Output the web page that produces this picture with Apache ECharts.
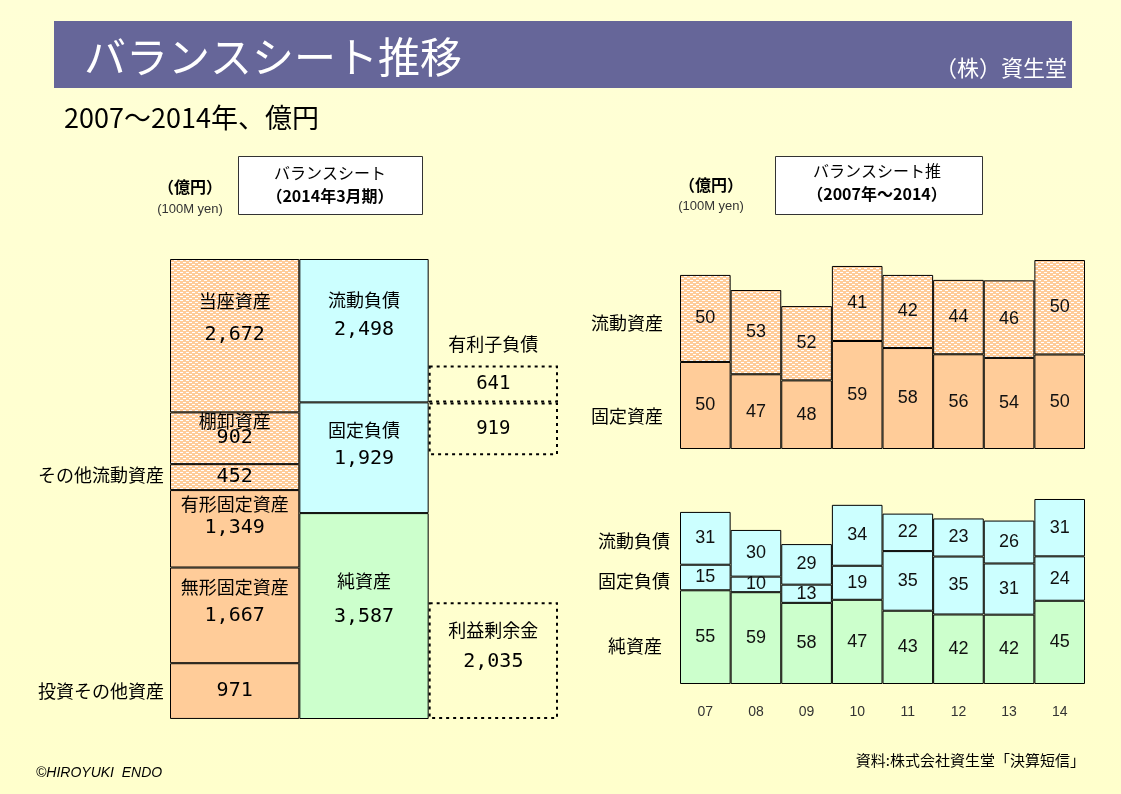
<!DOCTYPE html>
<html>
<head>
<meta charset="utf-8">
<script src="https://cdn.jsdelivr.net/npm/echarts@6/dist/echarts.min.js"></script>
<style>
  html, body { margin: 0; padding: 0; background: #FFFFD2; }
  #chart { width: 1121px; height: 794px; }
</style>
</head>
<body>
<div id="chart"></div>
<script>
// 2014年3月期 バランスシート (億円)
const assetNames = ['当座資産', '棚卸資産', 'その他流動資産', '有形固定資産', '無形固定資産', '投資その他資産'];
const assetValues = [2672, 902, 452, 1349, 1667, 971];
const liabNames = ['流動負債', '固定負債', '純資産'];
const liabValues = [2498, 1929, 3587];
const debtName = '有利子負債';
const debtValues = [641, 919];
const retainedName = '利益剰余金';
const retainedValue = 2035;

// 推移 2007〜2014 (構成比 %, 総資産 億円)
const years = ['07', '08', '09', '10', '11', '12', '13', '14'];
const totalAssets = [7380, 6740, 6060, 7760, 7380, 7170, 7150, 8013];
const currentAssetPct = [50, 53, 52, 41, 42, 44, 46, 50];
const fixedAssetPct = [50, 47, 48, 59, 58, 56, 54, 50];
const currentLiabPct = [31, 30, 29, 34, 22, 23, 26, 31];
const fixedLiabPct = [15, 10, 13, 19, 35, 35, 31, 24];
const netAssetPct = [55, 59, 58, 47, 43, 42, 42, 45];

const JP = '"Noto Sans CJK JP", sans-serif';
const MONO = '"DejaVu Sans Mono", monospace';
const NUM = '"Liberation Sans", Arial, sans-serif';

// 流動資産の網掛け
const makePattern = () => {
    const c = document.createElement('canvas');
    c.width = 6;
    c.height = 4;
    const g = c.getContext('2d');
    g.fillStyle = '#FFCC99';
    g.fillRect(0, 0, 6, 4);
    g.fillStyle = '#FFFFFF';
    g.fillRect(0, 0, 3, 1);
    g.fillRect(3, 2, 3, 1);
    return { image: c, repeat: 'repeat' };
};
const dotted = makePattern();
const fmt = (v) => v.toLocaleString('en-US');

// ラベル位置 (ブロック上端からの距離, 行の高さ)
const assetLabel = [
    { d: 25, lh: 34 },
    { d: 0, lh: 17 },
    null,
    { d: 2, lh: 24 },
    { d: 6, lh: 28 },
    null,
];
const liabLabel = [
    { d: 27, lh: 29 },
    { d: 14, lh: 28 },
    { d: 50, lh: 36 },
];
const richStyle = (lh) => ({
    n: { fontFamily: JP, fontSize: 18, lineHeight: lh, color: '#000' },
    v: { fontFamily: MONO, fontSize: 20, lineHeight: lh, color: '#000' },
});
const nameValueLabel = (name, value, cfg) => cfg
    ? {
        show: true, position: 'insideTop', distance: cfg.d,
        formatter: `{n|${name}}\n{v|${fmt(value)}}`, rich: richStyle(cfg.lh),
    }
    : {
        show: true, position: 'inside',
        formatter: fmt(value), fontFamily: MONO, fontSize: 20, color: '#000',
    };

const border = { borderColor: '#000', borderWidth: 1 };
const series = [];

assetNames.forEach((name, i) => {
    series.push({
        type: 'bar', name, stack: 'bs', xAxisIndex: 0, yAxisIndex: 0,
        barWidth: '100%',
        data: [assetValues[i], '-', '-'],
        itemStyle: { color: i < 3 ? dotted : '#FFCC99', ...border },
        label: nameValueLabel(name, assetValues[i], assetLabel[i]),
        silent: true,
    });
});
liabNames.forEach((name, i) => {
    series.push({
        type: 'bar', name, stack: 'bs', xAxisIndex: 0, yAxisIndex: 0,
        barWidth: '100%',
        data: ['-', liabValues[i], '-'],
        itemStyle: { color: i < 2 ? '#CCFFFF' : '#CCFFCC', ...border },
        label: nameValueLabel(name, liabValues[i], liabLabel[i]),
        silent: true,
    });
});

// 有利子負債・利益剰余金 (点線枠)
const liabTotal = liabValues.reduce((a, b) => a + b, 0);
const dashBox = { color: 'rgba(0,0,0,0)', borderColor: '#000', borderWidth: 2, borderType: [3, 4] };
const gap = { color: 'rgba(0,0,0,0)', borderWidth: 0 };
const debtTop = liabValues[0] - debtValues[0];
const gapMid = liabTotal - retainedValue - liabValues[0] - debtValues[1];
[
    { v: debtTop, style: gap, label: { show: true, position: 'insideBottom', distance: 12, formatter: debtName, fontFamily: JP, fontSize: 18, color: '#000' } },
    { v: debtValues[0], style: dashBox, label: { show: true, position: 'inside', formatter: fmt(debtValues[0]), fontFamily: MONO, fontSize: 19, color: '#000' } },
    { v: debtValues[1], style: dashBox, label: { show: true, position: 'inside', formatter: fmt(debtValues[1]), fontFamily: MONO, fontSize: 19, color: '#000' } },
    { v: gapMid, style: gap, label: { show: false } },
    { v: retainedValue, style: dashBox, label: nameValueLabel(retainedName, retainedValue, { d: 12, lh: 32 }) },
].forEach((b) => {
    series.push({
        type: 'bar', stack: 'bs', xAxisIndex: 0, yAxisIndex: 0, barWidth: '100%',
        data: ['-', '-', b.v], itemStyle: b.style, label: b.label, silent: true,
    });
});

// 推移グラフ
const pctLabel = (pct) => ({
    show: true, position: 'inside', fontFamily: NUM, fontSize: 18, color: '#111',
    formatter: (p) => String(pct[p.dataIndex]),
});
const trendBar = (pct, color, gridIdx, stack) => ({
    type: 'bar', stack, xAxisIndex: gridIdx, yAxisIndex: gridIdx, barWidth: '100%',
    data: totalAssets.map((t, i) => t * pct[i] / 100),
    itemStyle: { color, ...border },
    label: pctLabel(pct),
    silent: true,
});
series.push(trendBar(fixedAssetPct, '#FFCC99', 1, 'assets'));
series.push(trendBar(currentAssetPct, dotted, 1, 'assets'));
series.push(trendBar(netAssetPct, '#CCFFCC', 2, 'liab'));
series.push(trendBar(fixedLiabPct, '#CCFFFF', 2, 'liab'));
series.push(trendBar(currentLiabPct, '#CCFFFF', 2, 'liab'));

const txt = (x, y, text, size, opt = {}) => ({
    type: 'text', x, y, silent: true,
    style: {
        text, fill: opt.fill || '#000', align: opt.align || 'left', verticalAlign: 'middle',
        font: `${opt.style || 'normal'} ${opt.weight || 'normal'} ${size}px ${opt.family || JP}`,
    },
});

const graphic = [
    { type: 'rect', shape: { x: 54, y: 21, width: 1018, height: 67 }, style: { fill: '#666699' }, silent: true },
    txt(84, 57, 'バランスシート推移', 42, { fill: '#FFFFFF' }),
    txt(1067, 68, '（株）資生堂', 22, { fill: '#FFFFFF', align: 'right' }),
    txt(64, 118, '2007～2014年、億円', 27),

    { type: 'rect', shape: { x: 238.5, y: 156.5, width: 184, height: 58 }, style: { fill: '#FFFFFF', stroke: '#333', lineWidth: 1 }, silent: true },
    txt(330, 173, 'バランスシート', 16, { align: 'center' }),
    txt(330, 196, '（2014年3月期）', 16, { align: 'center', weight: 'bold' }),
    txt(190, 187, '（億円）', 16, { align: 'center', weight: 'bold' }),
    txt(190, 209, '(100M yen)', 13, { align: 'center', fill: '#333', family: NUM }),

    { type: 'rect', shape: { x: 775.5, y: 156.5, width: 207, height: 58 }, style: { fill: '#FFFFFF', stroke: '#333', lineWidth: 1 }, silent: true },
    txt(877, 171, 'バランスシート推', 16, { align: 'center' }),
    txt(877, 194, '（2007年～2014）', 16, { align: 'center', weight: 'bold' }),
    txt(711, 185, '（億円）', 16, { align: 'center', weight: 'bold' }),
    txt(711, 206, '(100M yen)', 13, { align: 'center', fill: '#333', family: NUM }),

    txt(164, 475, assetNames[2], 18, { align: 'right' }),
    txt(164, 691, assetNames[5], 18, { align: 'right' }),

    txt(663, 323, '流動資産', 18, { align: 'right' }),
    txt(663, 416, '固定資産', 18, { align: 'right' }),
    txt(670, 541, '流動負債', 18, { align: 'right' }),
    txt(670, 581, '固定負債', 18, { align: 'right' }),
    txt(662, 646, '純資産', 18, { align: 'right' }),

    txt(36, 773, '©HIROYUKI  ENDO', 14, { style: 'italic', family: NUM }),
    txt(1085, 760, '資料:株式会社資生堂「決算短信」', 15, { align: 'right' }),
];

const myChart = echarts.init(document.getElementById('chart'));
const option = {
    backgroundColor: {
        type: 'linear', x: 0, y: 0, x2: 0, y2: 1,
        colorStops: [{ offset: 0, color: '#FFFFD6' }, { offset: 1, color: '#FFFFCC' }],
    },
    animation: false,
    grid: [
        { left: 170, top: 259, width: 388, height: 460 },
        { left: 680, top: 260, width: 405, height: 189 },
        { left: 680, top: 499, width: 405, height: 185 },
    ],
    xAxis: [
        { type: 'category', gridIndex: 0, data: ['資産', '負債・純資産', '有利子負債'], show: false },
        { type: 'category', gridIndex: 1, data: years, show: false },
        {
            type: 'category', gridIndex: 2, data: years,
            axisLine: { show: false }, axisTick: { show: false },
            axisLabel: { margin: 21, fontFamily: NUM, fontSize: 14, color: '#333' },
        },
    ],
    yAxis: [
        { type: 'value', gridIndex: 0, min: 0, max: liabTotal, inverse: true, show: false },
        { type: 'value', gridIndex: 1, min: 0, max: 8013, show: false },
        { type: 'value', gridIndex: 2, min: 0, max: 8013, show: false },
    ],
    series,
    graphic,
};
myChart.setOption(option);
window.addEventListener('resize', () => {
    myChart.resize();
});
</script>
</body>
</html>
